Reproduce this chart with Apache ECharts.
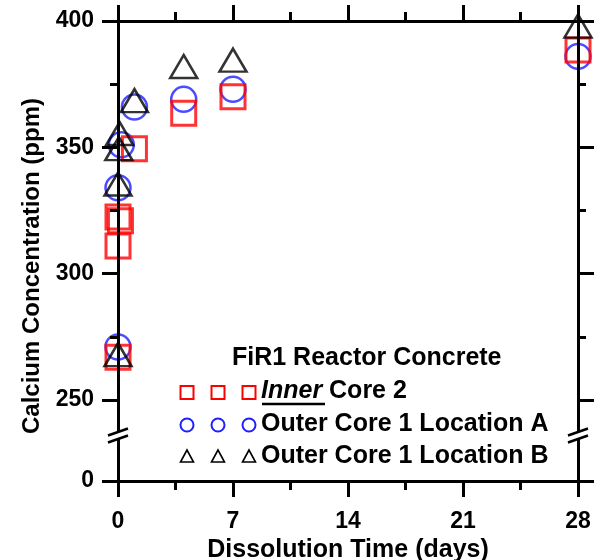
<!DOCTYPE html>
<html>
<head>
<meta charset="utf-8">
<script src="https://cdn.jsdelivr.net/npm/echarts@6/dist/echarts.min.js"></script>
<style>
html, body { margin: 0; padding: 0; background: #fff; }
#chart { width: 600px; height: 560px; }
</style>
</head>
<body>
<div id="chart"></div>
<script>
// values: [day, ppm]
const innerCore2 = [[0, 267], [0, 311], [0, 322.5], [0.15, 321], [1, 349.5], [4, 363.5], [7, 370], [28, 388.5]]
const outerCoreA = [[0, 271], [0, 334], [0.2, 351], [1, 366], [4, 369], [7, 373], [28, 386]]
const outerCoreB = [[0, 268], [0, 335.5], [0.05, 349.5], [0.1, 355.5], [1, 368.5], [4, 382], [7, 384.5], [28, 398]]

const yTicks = [250, 300, 350, 400]
const yMinorTicks = [275, 325, 375]
const yBottom = 218      // axis position that carries the "0" label below the break
const yBreak = 236       // where the break marks sit
const xMax = 28

const font = 'Liberation Sans, Arial, sans-serif'
const red = '#ff0000'
const blue = '#1f1fff'

const chart = echarts.init(document.getElementById('chart'))

function yAxisDef (position, ticks, len, withLabels) {
  return {
    type: 'value',
    position: position,
    min: yBottom,
    max: 400,
    z: 10,
    axisLine: { show: true, onZero: false, lineStyle: { color: '#000', width: 3 } },
    axisTick: { show: true, length: len, customValues: ticks, lineStyle: { color: '#000', width: 3 } },
    axisLabel: withLabels
      ? {
          customValues: ticks,
          formatter: v => (v === yBottom ? '0' : String(v)),
          margin: 24,
          color: '#000',
          fontFamily: font,
          fontWeight: 'bold',
          fontSize: 23
        }
      : { show: false },
    splitLine: { show: false },
    name: withLabels ? 'Calcium Concentration (ppm)' : '',
    nameLocation: 'middle',
    nameGap: 72,
    nameTextStyle: { color: '#000', fontFamily: font, fontWeight: 'bold', fontSize: 24, padding: [0, 30, 0, 0] }
  }
}

function xAxisDef (position, withLabels) {
  return {
    type: 'value',
    position: position,
    min: 0,
    max: xMax,
    interval: 7,
    z: 10,
    axisLine: { show: true, onZero: false, lineStyle: { color: '#000', width: 3 } },
    axisTick: { show: true, length: 16, lineStyle: { color: '#000', width: 3 } },
    minorTick: { show: true, splitNumber: 2, length: 9, lineStyle: { color: '#000', width: 3 } },
    axisLabel: withLabels
      ? { margin: 29, color: '#000', fontFamily: font, fontWeight: 'bold', fontSize: 23 }
      : { show: false },
    splitLine: { show: false },
    minorSplitLine: { show: false },
    name: withLabels ? 'Dissolution Time (days)' : '',
    nameLocation: 'middle',
    nameGap: 55,
    nameTextStyle: { color: '#000', fontFamily: font, fontWeight: 'bold', fontSize: 25 }
  }
}

const legendText = { fill: '#000', fontFamily: font, fontWeight: 'bold', fontSize: 25, textVerticalAlign: 'top' }

const legend = [
  { type: 'text', left: 232, top: 346, z: 100, style: Object.assign({ text: 'FiR1 Reactor Concrete' }, legendText) },
  {
    type: 'text', left: 261, top: 379, z: 100,
    style: Object.assign({}, legendText, {
      text: '{i|Inner} Core 2',
      rich: { i: { fontStyle: 'italic', fontWeight: 'bold', fontSize: 25, fontFamily: font } }
    })
  },
  { type: 'line', z: 100, shape: { x1: 262, y1: 404, x2: 325, y2: 404 }, style: { stroke: '#000', lineWidth: 2.5 } },
  { type: 'text', left: 261, top: 412, z: 100, style: Object.assign({ text: 'Outer Core 1 Location A' }, legendText) },
  { type: 'text', left: 261, top: 444, z: 100, style: Object.assign({ text: 'Outer Core 1 Location B' }, legendText) }
]
;[187, 218, 249].forEach(x => {
  legend.push({ type: 'rect', z: 100, shape: { x: x - 6.5, y: 386, width: 13, height: 13 }, style: { fill: 'none', stroke: red, lineWidth: 2 } })
  legend.push({ type: 'circle', z: 100, shape: { cx: x, cy: 425, r: 6.5 }, style: { fill: 'none', stroke: blue, lineWidth: 2 } })
  legend.push({ type: 'polygon', z: 100, shape: { points: [[x, 450], [x - 6.5, 462], [x + 6.5, 462]] }, style: { fill: 'none', stroke: '#000', lineWidth: 1.6 } })
})

chart.setOption({
  animation: false,
  backgroundColor: '#fff',
  grid: { left: 118, right: 22, top: 21, bottom: 79, containLabel: false, outerBoundsMode: 'none' },
  xAxis: [xAxisDef('bottom', true), xAxisDef('top', false)],
  yAxis: [
    yAxisDef('left', [yBottom].concat(yTicks), 16, true),
    yAxisDef('left', yMinorTicks, 8, false),
    yAxisDef('right', [yBottom].concat(yTicks), 16, false),
    yAxisDef('right', yMinorTicks, 8, false)
  ],
  series: [
    {
      name: 'Outer Core 1 Location A',
      type: 'scatter',
      data: outerCoreA,
      symbol: 'circle',
      symbolSize: 25,
      clip: false,
      itemStyle: { color: 'rgba(0,0,0,0)', borderColor: blue, borderWidth: 2.5 }
    },
    {
      name: 'Inner Core 2',
      type: 'scatter',
      data: innerCore2,
      symbol: 'rect',
      symbolSize: 24,
      clip: false,
      itemStyle: { color: 'rgba(0,0,0,0)', borderColor: red, borderWidth: 3 }
    },
    {
      name: 'Outer Core 1 Location B',
      type: 'scatter',
      data: outerCoreB,
      symbol: 'triangle',
      symbolSize: [27, 23],
      clip: false,
      itemStyle: { color: 'rgba(0,0,0,0)', borderColor: '#000', borderWidth: 2.5 }
    }
  ]
})

// axis break marks on both vertical axes
const breaks = []
;[0, xMax].forEach(v => {
  const p = chart.convertToPixel({ xAxisIndex: 0, yAxisIndex: 0 }, [v, yBreak])
  const x = p[0]
  const y = p[1]
  breaks.push({ type: 'rect', z: 100, shape: { x: x - 3, y: y - 3.5, width: 6, height: 7 }, style: { fill: '#fff' } })
  breaks.push({ type: 'line', z: 101, shape: { x1: x - 10, y1: y, x2: x + 10, y2: y - 7 }, style: { stroke: '#000', lineWidth: 2.5 } })
  breaks.push({ type: 'line', z: 101, shape: { x1: x - 10, y1: y + 7, x2: x + 10, y2: y }, style: { stroke: '#000', lineWidth: 2.5 } })
})

chart.setOption({ graphic: legend.concat(breaks) })
</script>
</body>
</html>
